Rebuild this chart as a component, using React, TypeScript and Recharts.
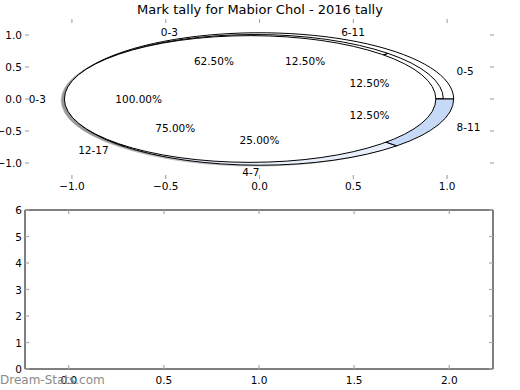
import React from "react";
import { ComposedChart, PieChart, Pie, XAxis, YAxis, ReferenceArea } from "recharts";

const FONT = "'DejaVu Sans', sans-serif";

// shares (percent)
const outerAges = ["0-3", "4-7", "8-11"];
const outerShares = [62.5, 25, 12.5];
const midAges = ["0-5", "6-11", "12-17"];
const midShares = [12.5, 12.5, 75];
const coreAges = ["0-3"];
const coreShares = [100];

const topTicks = [-1, -0.5, 0, 0.5, 1];
const lowerXTicks = [0, 0.5, 1, 1.5, 2];
const lowerYTicks = [0, 1, 2, 3, 4, 5, 6];

const outerData = outerAges.map((name, i) => ({ name, share: outerShares[i] }));
const midData = midAges.map((name, i) => ({ name, share: midShares[i] }));
const coreData = coreAges.map((name, i) => ({ name, share: coreShares[i] }));
const topRows = topTicks.map((x) => ({ x }));
const lowerRows = lowerXTicks.map((x) => ({ x }));

// top axes box (pixels) -> data units
const TOP = { left: 25, right: 494, top: 19, bottom: 179 };
const LOW = { left: 25, right: 493, top: 10, bottom: 169 };
const UX = (TOP.right - TOP.left) / 2.5;
const UY = (TOP.bottom - TOP.top) / 2.5;
const CX = TOP.left + 1.25 * UX;
const CY = TOP.top + 1.25 * UY;

type Geo = { dx: number; r: number };
const OUTER: Geo = { dx: 0, r: 1.035 };
const MID: Geo = { dx: -0.0275, r: 1.0075 };
const CORE: Geo = { dx: -0.05, r: 0.99 };

const TICK = "#a8a8a8";
const fmt1 = (v: number) => v.toFixed(1).replace("-", "\u2212");
const fmt0 = (v: number) => String(v);

function pt(cx: number, cy: number, r: number, deg: number) {
  const a = (deg * Math.PI) / 180;
  return [cx + r * UX * Math.cos(a), cy - r * UY * Math.sin(a)];
}

// pie wedge in data space, drawn on the stretched axes -> ellipse
function wedgePath(cx: number, cy: number, r: number, a0: number, a1: number) {
  const rx = r * UX;
  const ry = r * UY;
  if (Math.abs(a1 - a0) >= 359.99) {
    const [x0, y0] = pt(cx, cy, r, a0);
    const [x1, y1] = pt(cx, cy, r, a0 + 180);
    return `M${x0},${y0} A${rx},${ry} 0 1 0 ${x1},${y1} A${rx},${ry} 0 1 0 ${x0},${y0}`;
  }
  const [x0, y0] = pt(cx, cy, r, a0);
  const [x1, y1] = pt(cx, cy, r, a1);
  const large = Math.abs(a1 - a0) > 180 ? 1 : 0;
  return `M${cx},${cy} L${x0},${y0} A${rx},${ry} 0 ${large} 0 ${x1},${y1} Z`;
}

const wedges =
  (g: Geo, fills: string[], stroke: string, opts: { sx?: number; sy?: number; opacity?: number } = {}) =>
  (p: any) => {
    const cx = (p.cx ?? CX) + g.dx * UX + (opts.sx ?? 0) * UX;
    const cy = (p.cy ?? CY) - (opts.sy ?? 0) * UY;
    return (
      <path
        d={wedgePath(cx, cy, g.r, p.startAngle, p.endAngle)}
        fill={fills[p.index % fills.length]}
        fillOpacity={opts.opacity ?? 1}
        stroke={stroke}
        strokeWidth={1}
        strokeLinejoin="round"
      />
    );
  };

const pieText = (dx: number, labelR: number, pctR: number) => (p: any) => {
  const a = (p.midAngle * Math.PI) / 180;
  const cx = (p.cx ?? CX) + dx * UX;
  const cy = p.cy ?? CY;
  const c = Math.cos(a);
  return (
    <g fontFamily={FONT} fontSize={10.5} fill="#000">
      <text x={cx + labelR * UX * c} y={cy - labelR * UY * Math.sin(a)} textAnchor={c > 0 ? "start" : "end"} dominantBaseline="central">
        {p.name}
      </text>
      <text x={cx + pctR * UX * c} y={cy - pctR * UY * Math.sin(a)} textAnchor="middle" dominantBaseline="central">
        {(p.percent * 100).toFixed(2)}%
      </text>
    </g>
  );
};

// inward tick marks on both edges, drawn from the bottom / left axes
const xTick = (off: number, plotH: number, fmt: (v: number) => string) => (p: any) => (
  <g>
    <line x1={p.x} x2={p.x} y1={p.y} y2={p.y - 4} stroke={TICK} strokeWidth={1.2} />
    <line x1={p.x} x2={p.x} y1={p.y - plotH} y2={p.y - plotH + 4} stroke={TICK} strokeWidth={1.2} />
    <text x={p.x} y={p.y + off} textAnchor="middle" dominantBaseline="central" fontSize={10.5} fontFamily={FONT} fill="#000">
      {fmt(p.payload.value)}
    </text>
  </g>
);
const yTick = (plotW: number, fmt: (v: number) => string) => (p: any) => (
  <g>
    <line x1={p.x} x2={p.x + 4} y1={p.y} y2={p.y} stroke={TICK} strokeWidth={1.2} />
    <line x1={p.x + plotW} x2={p.x + plotW - 4} y1={p.y} y2={p.y} stroke={TICK} strokeWidth={1.2} />
    <text x={p.x - 3} y={p.y} textAnchor="end" dominantBaseline="central" fontSize={10.5} fontFamily={FONT} fill="#000">
      {fmt(p.payload.value)}
    </text>
  </g>
);

function PieStack() {
  const common = {
    dataKey: "share",
    cx: CX,
    cy: CY,
    outerRadius: 10,
    fill: "none",
    stroke: "none",
    isAnimationActive: false,
    labelLine: false,
  };
  return (
    <PieChart width={520} height={200} margin={{ top: 0, right: 0, bottom: 0, left: 0 }}>
      {/* shadows + white base */}
      <Pie {...common} data={coreData} label={wedges(OUTER, ["#4d4d4d"], "none", { sx: -0.02, sy: -0.02, opacity: 0.35 })} />
      <Pie {...common} data={coreData} label={wedges(CORE, ["#4d4d4d"], "none", { sx: -0.02, sy: -0.02, opacity: 0.35 })} />
      <Pie {...common} data={coreData} label={wedges(OUTER, ["#ffffff"], "none")} />
      <Pie {...common} data={midData} label={wedges(MID, ["none"], "#000")} />
      <Pie {...common} data={outerData} label={wedges(OUTER, ["none", "#e8effb", "#c6daf8"], "#000")} />
      <Pie {...common} data={coreData} label={wedges(CORE, ["#ffffff"], "#000")} />
      {/* text */}
      <Pie {...common} data={midData} label={pieText(0, 1.137, 0.635)} />
      <Pie {...common} data={outerData} label={pieText(0, 1.137, 0.635)} />
      <Pie {...common} data={coreData} label={pieText(CORE.dx, 1.1 * CORE.r, 0.6 * CORE.r)} />
    </PieChart>
  );
}

function TopAxes() {
  return (
    <ComposedChart width={520} height={200} data={topRows} margin={{ top: TOP.top, right: 520 - TOP.right, bottom: 0, left: 0 }}>
      <XAxis dataKey="x" type="number" domain={[-1.25, 1.25]} allowDataOverflow ticks={topTicks} interval={0} height={200 - TOP.bottom} axisLine={false} tickLine={false} tickSize={0} tickMargin={0} tick={xTick(6.5, TOP.bottom - TOP.top, fmt1)} />
      <YAxis type="number" domain={[-1.25, 1.25]} allowDataOverflow ticks={topTicks} interval={0} width={TOP.left} axisLine={false} tickLine={false} tickSize={0} tickMargin={0} tick={yTick(TOP.right - TOP.left, fmt1)} />
    </ComposedChart>
  );
}

function LowerAxes() {
  return (
    <ComposedChart width={520} height={190} data={lowerRows} margin={{ top: LOW.top, right: 520 - LOW.right, bottom: 0, left: 0 }}>
      <XAxis dataKey="x" type="number" domain={[-0.23, 2.23]} allowDataOverflow ticks={lowerXTicks} interval={0} height={190 - LOW.bottom} axisLine={false} tickLine={false} tickSize={0} tickMargin={0} tick={xTick(10.5, LOW.bottom - LOW.top, fmt1)} />
      <YAxis type="number" domain={[0, 6]} allowDataOverflow ticks={lowerYTicks} interval={0} width={LOW.left} axisLine={false} tickLine={false} tickSize={0} tickMargin={0} tick={yTick(LOW.right - LOW.left, fmt0)} />
      <ReferenceArea x1={-0.23} x2={2.23} y1={0} y2={6} fill="none" stroke="#000" strokeWidth={1} ifOverflow="visible" />
    </ComposedChart>
  );
}

export default function App() {
  return (
    <div style={{ position: "absolute", left: 0, top: 0, width: 520, height: 390, background: "#fff", fontFamily: FONT }}>
      <div style={{ position: "absolute", left: 0, top: 3, width: 520, textAlign: "center", fontSize: 13, lineHeight: "13px", color: "#000" }}>
        Mark tally for Mabior Chol - 2016 tally
      </div>
      <div style={{ position: "absolute", left: 0, top: 0 }}>
        <TopAxes />
      </div>
      <div style={{ position: "absolute", left: 0, top: 0 }}>
        <PieStack />
      </div>
      <div style={{ position: "absolute", left: 0, top: 200 }}>
        <LowerAxes />
      </div>
      <div style={{ position: "absolute", left: 0, top: 373, fontSize: 12, lineHeight: "14px", color: "#8a8a8a" }}>
        Dream-Stats.com
      </div>
    </div>
  );
}
